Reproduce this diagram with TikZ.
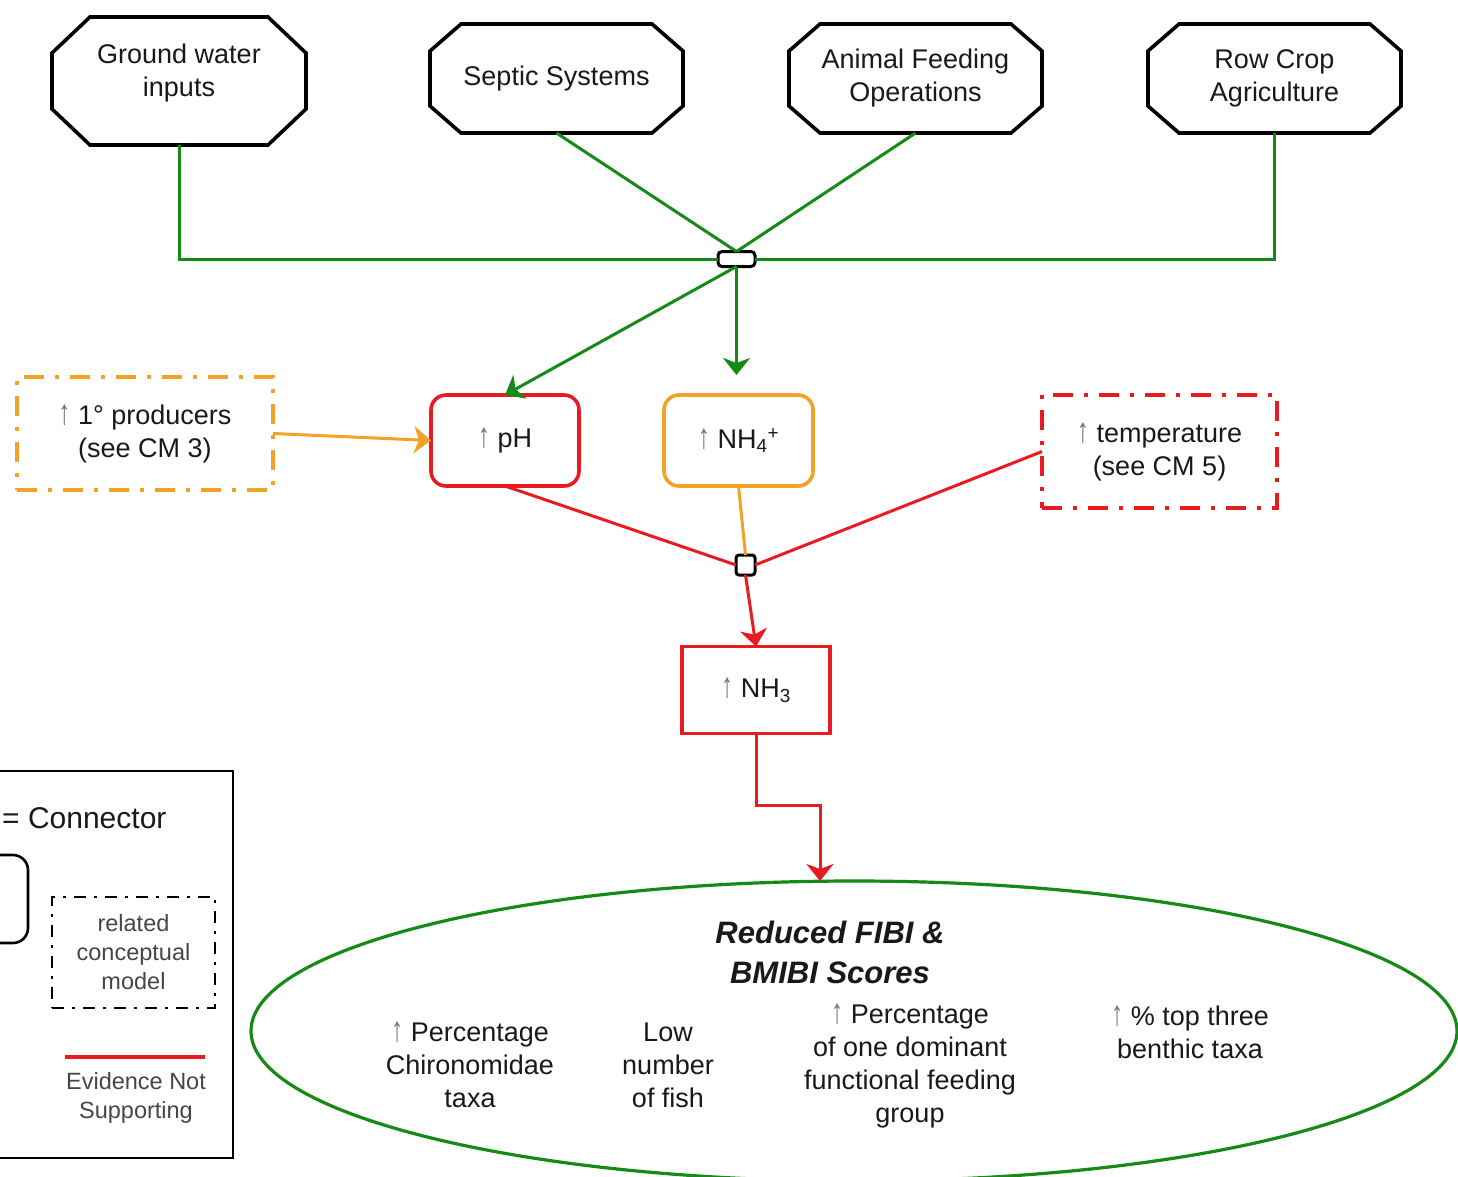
\documentclass[tikz,border=0pt]{standalone}
\usepackage{fontspec}
\usepackage{graphicx}
\setmainfont{Liberation Sans}
\usetikzlibrary{arrows.meta,calc,shapes.geometric}

\definecolor{cgreen}{RGB}{22,138,22}
\definecolor{cred}{RGB}{232,28,32}
\definecolor{corange}{RGB}{242,162,38}
\definecolor{ctext}{RGB}{25,25,25}
\definecolor{clegend}{RGB}{70,70,70}

\newcommand\myup{{\color{black!55}\scalebox{0.9}[1.3]{↑}}}
% chamfered frame around a named node: #1 node, #2 x chamfer, #3 y chamfer
\newcommand\octframe[3]{%
  \draw[octline] ([xshift=#2pt]#1.north west) -- ([xshift=-#2pt]#1.north east)
    -- ([yshift=-#3pt]#1.north east) -- ([yshift=#3pt]#1.south east)
    -- ([xshift=-#2pt]#1.south east) -- ([xshift=#2pt]#1.south west)
    -- ([yshift=#3pt]#1.south west) -- ([yshift=-#3pt]#1.north west) -- cycle;}

\tikzset{
  txt/.style={font=\fontsize{27}{33}\selectfont, text=ctext, align=center},
  source/.style={txt, inner sep=0pt, outer sep=0pt},
  octline/.style={line width=3.6pt, line join=miter},
  stressor/.style={txt, rounded corners=15pt, line width=3.6pt, inner sep=0pt, outer sep=0pt, fill=white},
  relbox/.style={txt, line width=3.6pt, inner sep=0pt, outer sep=0pt,
     dash pattern=on 20pt off 11pt on 4pt off 11pt},
  junction/.style={draw=black, line width=3pt, fill=white, rounded corners=4pt, inner sep=0pt, outer sep=0pt},
  gline/.style={draw=cgreen, line width=3pt},
  rline/.style={draw=cred, line width=3pt},
  oline/.style={draw=corange, line width=3pt},
  tip/.style={-{Stealth[length=17pt,width=27pt,inset=5pt]}},
  lgtxt/.style={font=\fontsize{23.5}{29}\selectfont, text=clegend, align=center},
}

\begin{document}
\begin{tikzpicture}[x=1pt,y=-1pt]
\clip (0,0) rectangle (1458,1176);
\fill[white] (0,0) rectangle (1458,1176);

% sources
\node[source, minimum width=254pt, minimum height=128pt] (gw)   at (179,81) {};
\node[txt] (gwt) at (179,73) {Ground water\\inputs};
\node[source, minimum width=253pt, minimum height=109pt] (sep)  at (556.5,78.5) {Septic Systems};
\node[source, minimum width=253pt, minimum height=109pt] (afo)  at (915.5,78.5) {Animal Feeding\\Operations};
\node[source, minimum width=253pt, minimum height=109pt] (row)  at (1274.5,78.5) {Row Crop\\Agriculture};
\octframe{gw}{38}{36}
\octframe{sep}{31}{27}
\octframe{afo}{31}{27}
\octframe{row}{31}{27}

% first connector
\node[junction, minimum width=37pt, minimum height=15pt] (j1) at (736.5,259) {};

% stressors
\node[stressor, draw=cred, minimum width=148pt, minimum height=91pt] (ph) at (505,440.5) {\myup\ pH};
\node[stressor, draw=corange, minimum width=149pt, minimum height=91pt] (nh4) at (738.5,440.5) {\myup\ NH\textsubscript{4}\textsuperscript{+}};
\node[relbox, draw=corange, minimum width=256pt, minimum height=113pt] (prod) at (145,433.5) {\myup\ 1° producers\\(see CM 3)};
\node[relbox, draw=cred, minimum width=235pt, minimum height=113pt] (temp) at (1159.5,451.5) {\myup\ temperature\\(see CM 5)};

% second connector
\node[junction, rounded corners=3pt, minimum width=19pt, minimum height=20pt] (j2) at (745.5,565) {};

% ammonia
\node[txt, draw=cred, line width=3.6pt, inner sep=0pt, outer sep=0pt, minimum width=148pt, minimum height=87pt] (nh3) at (756,690) {\myup\ NH\textsubscript{3}};

% response
\node[draw=cgreen, line width=3.2pt, ellipse, minimum width=1206pt, minimum height=300pt, inner sep=0pt, outer sep=0pt] (ell) at (854,1031) {};
\node[font=\fontsize{31}{40}\selectfont\bfseries\itshape, text=ctext, align=center] (title) at (830,952) {Reduced FIBI \&\\BMIBI Scores};
\node[txt] (r1) at (470,1065) {\myup\ Percentage\\Chironomidae\\taxa};
\node[txt] (r2) at (668,1065) {Low\\number\\of fish};
\node[txt] (r3) at (910,1066) {\myup\ Percentage\\of one dominant\\functional feeding\\group};
\node[txt] (r4) at (1190,1032) {\myup\ \% top three\\benthic taxa};

% connectors: sources to first connector
\draw[gline] (gw.south) |- (j1.west);
\draw[gline] (row.south) |- (j1.east);
\draw[gline] (sep.south) -- (j1.north);
\draw[gline] (afo.south) -- (j1.north);
\draw[gline, tip] (j1.south) -- (ph.north);
\draw[gline, tip, shorten >=20pt] (j1.south) -- (nh4.north -| j1.south);

% into pH and second connector
\draw[oline, tip] (prod.east) -- (ph.west);
\draw[rline] (ph.south) -- (j2.west);
\draw[oline] (nh4.south) -- (j2.north);
\draw[rline] (temp.west) -- (j2.east);
\draw[rline, tip] (j2.south) -- (nh3.north);

% ammonia to response
\coordinate (bend) at (820,805);
\draw[rline, tip] (nh3.south) |- (bend) -- (bend |- ell.north);

% legend
\draw[line width=2.6pt] (-20,771) rectangle (233,1158);
\node[font=\fontsize{30}{36}\selectfont, text=ctext, anchor=west, inner sep=0pt] (lgcon) at (2,818) {= Connector};
\draw[line width=2.6pt, rounded corners=15pt] (-100,855) rectangle (28,943);
\node[lgtxt, draw=black, line width=2.6pt, inner sep=0pt, minimum width=163pt, minimum height=111pt,
      dash pattern=on 12pt off 8pt on 3pt off 8pt] (lgrel) at (133.5,952.5) {related\\conceptual\\model};
\coordinate (lgl) at (65,1057);
\coordinate (lgr) at (205,1057);
\draw[draw=cred, line width=3.5pt] (lgl) -- (lgr);
\node[lgtxt] (lgev) at (136,1097.5) {Evidence Not\\Supporting};
\end{tikzpicture}
\end{document}
